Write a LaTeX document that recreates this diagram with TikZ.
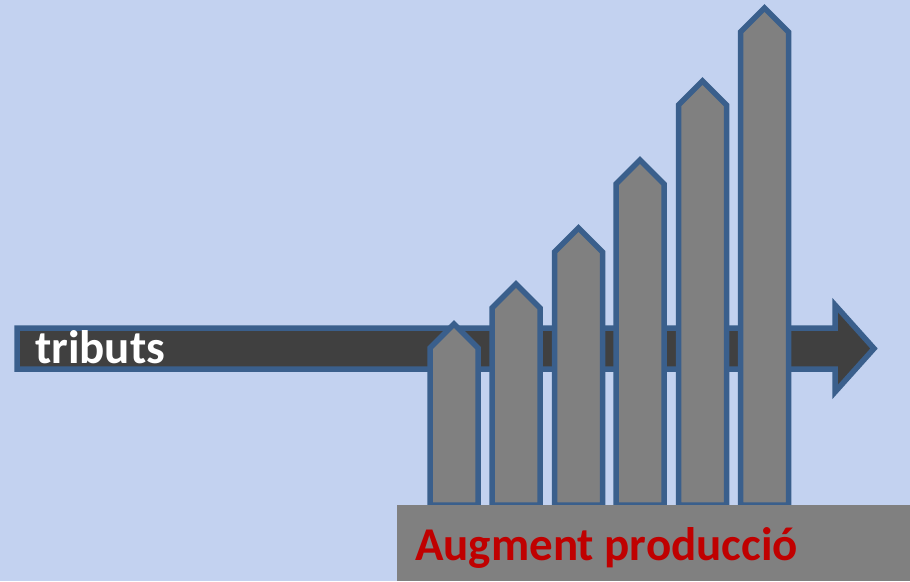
\documentclass[tikz,border=0pt]{standalone}
\usepackage{fontspec}
\setmainfont{Carlito}
\definecolor{bgblue}{RGB}{195,210,240}
\definecolor{edgeblue}{RGB}{58,95,140}
\definecolor{darkfill}{RGB}{64,64,64}
\definecolor{barfill}{RGB}{128,128,128}
\definecolor{labelred}{RGB}{192,0,0}
\tikzset{
  shapeedge/.style={draw=edgeblue, line width=5.5pt, line join=miter, miter limit=10},
  bigarrow/.style={shapeedge, fill=darkfill},
  barshape/.style={shapeedge, fill=barfill},
  labeltext/.style={font=\fontsize{47}{56}\selectfont\bfseries, inner sep=0pt, anchor=base west},
}
\newcommand{\mybar}[2]{%
  \draw[barshape] (#1-24,505) -- (#1-24,#2+24) -- (#1,#2) -- (#1+24,#2+24) -- (#1+24,505) -- cycle;}
\begin{document}
\begin{tikzpicture}[x=1pt,y=-1pt]
\fill[bgblue] (0,0) rectangle (910,581);
\useasboundingbox (0,0) rectangle (910,581);
% main arrow
\draw[bigarrow] (17,328) -- (835,328) -- (835,305) -- (874,348.5) -- (835,392) -- (835,369) -- (17,369) -- cycle;
\node[labeltext, text=white] (trib) at (35,363) {tributs};
% bars
\mybar{454}{324}
\mybar{516}{284}
\mybar{578.5}{228}
\mybar{640}{160}
\mybar{702.5}{81}
\mybar{764.5}{8}
% bottom box
\fill[barfill] (397,505) rectangle (910,581);
\node[labeltext, text=labelred] (aug) at (415,560) {Augment producció};
\end{tikzpicture}
\end{document}
